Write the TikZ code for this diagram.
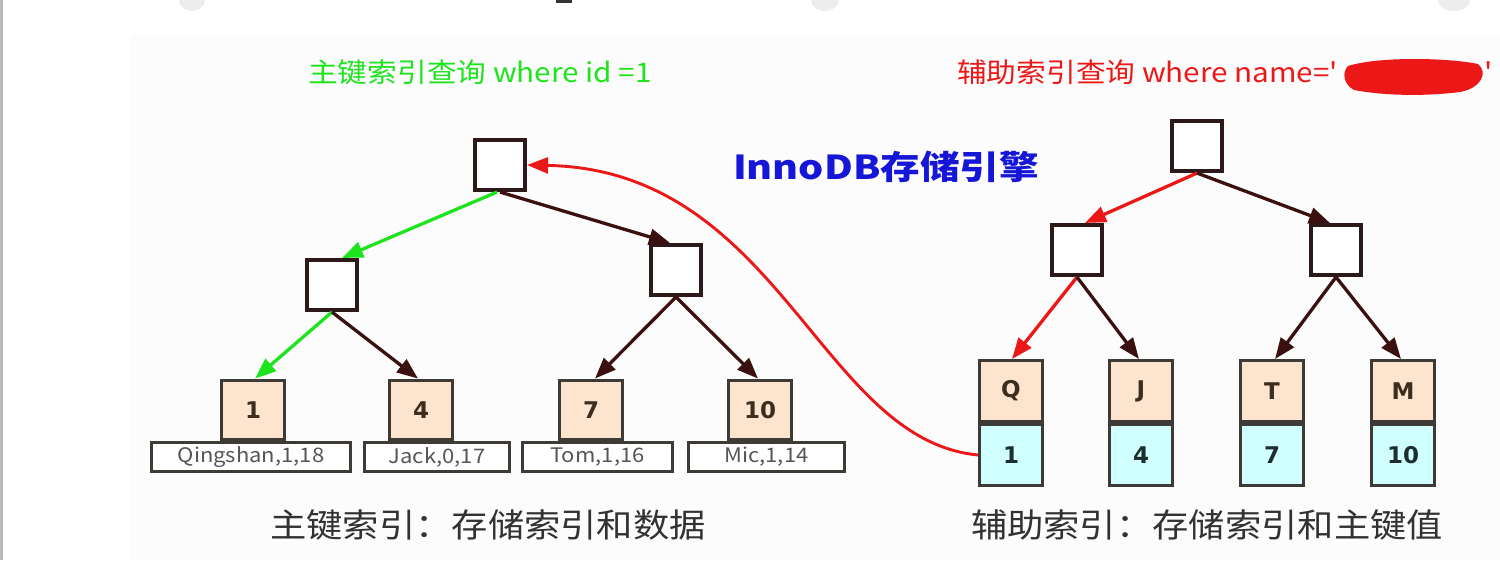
\documentclass[tikz,border=0pt]{standalone}
\usepackage{fontspec}
\setmainfont{Noto Sans}
\newfontfamily\cjk[FakeStretch=1.1]{Noto Sans CJK SC}
\newfontfamily\cjkw[FakeStretch=1.2]{Noto Sans CJK SC}
\newfontfamily\dvb{DejaVu Sans}
\usetikzlibrary{arrows.meta}
\definecolor{tgreen}{RGB}{30,228,30}
\definecolor{tred}{RGB}{236,24,24}
\definecolor{tblue}{RGB}{22,22,215}
\definecolor{darkarr}{RGB}{58,16,16}
\definecolor{boxc}{RGB}{45,25,25}
\definecolor{leafc}{RGB}{62,58,54}
\definecolor{peach}{RGB}{252,228,206}
\definecolor{lcyan}{RGB}{208,255,255}
\definecolor{leaftxt}{RGB}{60,45,30}
\definecolor{cyantxt}{RGB}{30,45,45}
\definecolor{txtgray}{RGB}{85,85,85}
\definecolor{bottxt}{RGB}{50,50,50}
\definecolor{panel}{RGB}{252,252,252}
\begin{document}
\begin{tikzpicture}[x=1pt,y=-1pt,
  ibox/.style={draw=boxc, line width=3.6pt, fill=white, minimum width=50.5pt, minimum height=50.5pt, inner sep=0pt},
  keya/.style={draw=leafc, line width=3.4pt, fill=peach, minimum width=63.5pt, minimum height=59.5pt, inner sep=0pt, text=leaftxt, font=\dvb\bfseries\fontsize{23}{23}\selectfont},
  keyq/.style={draw=leafc, line width=3.4pt, fill=peach, minimum width=62.5pt, minimum height=60.5pt, inner sep=0pt, text=leaftxt, font=\dvb\bfseries\fontsize{23}{23}\selectfont},
  keyv/.style={draw=leafc, line width=3.4pt, fill=lcyan, minimum width=62.5pt, minimum height=60.5pt, inner sep=0pt, text=cyantxt, font=\dvb\bfseries\fontsize{23}{23}\selectfont},
  datab/.style={draw=leafc, line width=2.8pt, fill=white, minimum height=29pt, inner sep=0pt, text=txtgray, font=\cjk\fontsize{20}{20}\selectfont},
  arr/.style={line width=3.3pt, darkarr, -{Triangle[length=21pt,width=16pt]}},
  garr/.style={line width=3.3pt, tgreen, -{Triangle[length=21pt,width=16pt]}},
  rarr/.style={line width=3.3pt, tred, -{Triangle[length=21pt,width=16pt]}},
  ttl/.style={font=\cjk\fontsize{27}{27}\selectfont, inner sep=0pt, anchor=west},
  btm/.style={font=\cjk\fontsize{33}{33}\selectfont, text=bottxt, inner sep=0pt}
]
\useasboundingbox (0,0) rectangle (1500,560);
\fill[white] (0,0) rectangle (1500,560);
\fill[panel] (130,35) rectangle (1500,560);
\fill[gray!55] (0,0) rectangle (3,560);
% cut-off watermark pieces at the top edge
\fill[gray!14] (192,0) ellipse [x radius=13, y radius=11];
\fill[gray!14] (825,0) ellipse [x radius=14, y radius=11];
\fill[gray!14] (1454,0) ellipse [x radius=16, y radius=11];
\fill[black!80] (556,0) rectangle (572,3);

% titles
\node[ttl, text=tgreen] (t1) at (308,72) {主键索引查询 where id =1};
\node[ttl, text=tred] (t2) at (957,72) {辅助索引查询 where name='};
\fill[tred] (1348,66) .. controls (1380,56) and (1450,58) .. (1478,64)
  .. controls (1488,72) and (1482,88) .. (1460,92)
  .. controls (1420,97) and (1380,95) .. (1354,90)
  .. controls (1343,84) and (1342,72) .. (1348,66) -- cycle;
\node[ttl, text=tred] (t2q) at (1484,72) {'};
\node[font=\cjkw\bfseries\fontsize{33}{33}\selectfont, text=tblue, inner sep=0pt] (t3) at (886,167) {InnoDB存储引擎};

% left tree (primary index)
\node[ibox] (L0) at (500,165) {};
\node[ibox] (L1) at (332,285) {};
\node[ibox] (L2) at (676,270) {};
\node[keya] (La) at (253,410) {1};
\node[keya] (Lb) at (421,410) {4};
\node[keya] (Lc) at (591,410) {7};
\node[keya] (Ld) at (760,410) {10};
\node[datab, minimum width=199pt] (Da) at (251,457) {Qingshan,1,18};
\node[datab, minimum width=145pt] (Db) at (437,457) {Jack,0,17};
\node[datab, minimum width=150pt] (Dc) at (597.5,457) {Tom,1,16};
\node[datab, minimum width=156pt] (Dd) at (766.5,457) {Mic,1,14};

\draw[garr] ([xshift=-3pt]L0.south) -- ([xshift=10pt]L1.north);
\draw[arr] (L0.south) -- ([xshift=-6pt]L2.north);
\draw[garr] (L1.south) -- ([xshift=2pt]La.north);
\draw[arr] (L1.south) -- ([xshift=-3pt]Lb.north);
\draw[arr] (L2.south) -- ([xshift=4pt]Lc.north);
\draw[arr] (L2.south) -- ([xshift=-2pt]Ld.north);

% right tree (secondary index)
\node[ibox] (R0) at (1197,146) {};
\node[ibox] (R1) at (1077,250) {};
\node[ibox] (R2) at (1336,250) {};
\node[keyq] (Qk) at (1011,391) {Q};
\node[keyv] (Qv) at (1011,455) {1};
\node[keyq] (Jk) at (1141,391) {J};
\node[keyv] (Jv) at (1141,455) {4};
\node[keyq] (Tk) at (1272,391) {T};
\node[keyv] (Tv) at (1272,455) {7};
\node[keyq] (Mk) at (1403,391) {M};
\node[keyv] (Mv) at (1403,455) {10};

\draw[rarr] (R0.south) -- ([xshift=8pt]R1.north);
\draw[arr] (R0.south) -- ([xshift=-6pt]R2.north);
\draw[rarr] (R1.south) -- ([xshift=1pt]Qk.north);
\draw[arr] (R1.south) -- ([xshift=-2pt]Jk.north);
\draw[arr] (R2.south) -- ([xshift=3pt]Tk.north);
\draw[arr] (R2.south) -- ([xshift=-2pt]Mk.north);

% lookup back to the primary index
\draw[line width=2.9pt, tred, -{Triangle[length=21pt,width=16pt]}]
  (Qv.west) .. controls (820,440) and (780,170) .. (L0.east);

% captions
\node[btm] (b1) at (488,525) {主键索引：存储索引和数据};
\node[btm] (b2) at (1207,525) {辅助索引：存储索引和主键值};
\end{tikzpicture}
\end{document}
